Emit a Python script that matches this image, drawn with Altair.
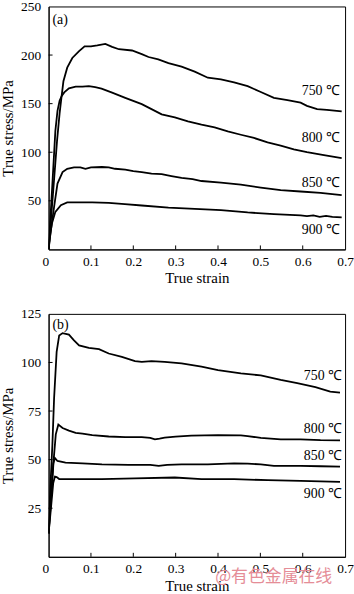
import altair as alt
import pandas as pd

# ---------------- data: panel (a) ----------------
a750_strain = [0, 0.010, 0.020, 0.026, 0.030, 0.035, 0.044, 0.056, 0.072, 0.085, 0.100, 0.115, 0.134, 0.150,
               0.166, 0.197, 0.220, 0.236, 0.259, 0.283, 0.314, 0.345, 0.376, 0.407, 0.438, 0.470, 0.501,
               0.532, 0.564, 0.595, 0.610, 0.634, 0.657, 0.692]
a750_stress = [0, 55, 112, 140, 155, 173, 187, 197, 204, 209, 209, 210, 211.5, 208.5,
               206, 204.7, 201, 198, 195.5, 191.7, 188, 183, 176.7, 175, 172, 168, 162,
               156, 153.5, 151, 147.7, 144.3, 143.7, 142]

a800_strain = [0, 0.008, 0.016, 0.021, 0.026, 0.031, 0.037, 0.048, 0.064, 0.080, 0.095, 0.110, 0.125, 0.150,
               0.181, 0.220, 0.243, 0.267, 0.298, 0.329, 0.361, 0.392, 0.423, 0.454, 0.485, 0.517, 0.548,
               0.579, 0.610, 0.650, 0.692]
a800_stress = [0, 60, 122, 142.6, 153, 158, 161.6, 165.8, 167.5, 167.5, 168, 167, 165.5, 161.4,
               156, 149.5, 144.4, 139, 135.8, 131.7, 128.3, 125.6, 121.5, 118, 114.7, 110.2, 106.8,
               103, 100, 97, 94]

a850_strain = [0, 0.006, 0.013, 0.021, 0.033, 0.044, 0.060, 0.075, 0.087, 0.100, 0.126, 0.142, 0.157, 0.181,
               0.200, 0.220, 0.243, 0.267, 0.290, 0.314, 0.340, 0.361, 0.407, 0.454, 0.501, 0.548, 0.595,
               0.642, 0.692]
a850_stress = [0, 22, 43.8, 67.7, 79.6, 83, 84.5, 84.5, 83, 84.5, 84.8, 84.5, 83, 82,
               80.6, 79.6, 77.9, 77.5, 75.5, 73.5, 72.3, 70.4, 68.7, 66.7, 63.6, 60.9, 59.6,
               58.2, 55.8]

a900_strain = [0, 0.003, 0.008, 0.016, 0.029, 0.044, 0.070, 0.103, 0.142, 0.180, 0.220, 0.283, 0.345,
               0.407, 0.470, 0.532, 0.595, 0.610, 0.625, 0.640, 0.655, 0.670, 0.692]
a900_stress = [0, 13, 26.8, 38.7, 45.5, 48.3, 48.5, 48.3, 47.9, 46.5, 45.2, 43.1, 41.8,
               40.4, 38, 36.3, 35, 34.2, 35, 33.6, 34.6, 33.4, 33]

# ---------------- data: panel (b) ----------------
b750_strain = [0, 0.004, 0.009, 0.013, 0.019, 0.025, 0.033, 0.048, 0.060, 0.072, 0.095, 0.119, 0.142, 0.173,
               0.204, 0.220, 0.243, 0.274, 0.314, 0.361, 0.400, 0.454, 0.501, 0.548, 0.587, 0.630, 0.665, 0.688]
b750_stress = [12, 35, 57.8, 81.6, 105.4, 113.9, 115.1, 114.3, 111.4, 108.8, 107.5, 106.8, 104.6, 102.9,
               100.7, 100.3, 100.7, 100.3, 99.5, 97.8, 96.1, 94.4, 93.3, 91, 89.3, 87.3, 85, 84.5]

b800_strain = [0, 0.006, 0.012, 0.017, 0.023, 0.033, 0.048, 0.064, 0.080, 0.103, 0.142, 0.181, 0.220, 0.240,
               0.251, 0.262, 0.274, 0.300, 0.337, 0.400, 0.454, 0.470, 0.501, 0.548, 0.595, 0.642, 0.688]
b800_stress = [12, 30, 50, 63, 68, 66.3, 64.9, 63.8, 63.4, 62.6, 61.9, 61.6, 61.6, 61.2,
               60.4, 60.8, 61.3, 61.8, 62.4, 62.6, 62.5, 62.1, 61.2, 60.4, 60.4, 60, 59.9]

b850_strain = [0, 0.005, 0.011, 0.015, 0.021, 0.040, 0.080, 0.126, 0.189, 0.240, 0.260, 0.280, 0.314, 0.376,
               0.438, 0.470, 0.501, 0.532, 0.595, 0.642, 0.688]
b850_stress = [12, 30, 48, 50.8, 49.3, 48.5, 48.1, 47.6, 47.3, 47.3, 46.8, 47.3, 47.6, 47.6,
               48.1, 47.9, 47.6, 46.8, 46.8, 46.6, 46.4]

b900_strain = [0, 0.006, 0.011, 0.015, 0.019, 0.025, 0.048, 0.126, 0.204, 0.298, 0.361, 0.438, 0.517,
               0.595, 0.642, 0.688]
b900_stress = [12, 26, 38, 41.3, 41, 40, 40, 40, 40.3, 40.8, 40, 40, 39.4, 39.1, 38.8, 38.6]

temps = ["750 ℃", "800 ℃", "850 ℃", "900 ℃"]
a_label_stress = [163, 115, 68.7, 20]
b_label_stress = [93.2, 65.5, 51.9, 32.3]
a_label_strain = 0.688
b_label_strain = 0.693

x_ticks = [0, 0.1, 0.2, 0.3, 0.4, 0.5, 0.6, 0.7]
a_y_ticks = [50, 100, 150, 200, 250]
b_y_ticks = [25, 50, 75, 100, 125]

FONT = "Liberation Serif"
W, H = 299, 245


def long_df(series):
    rows = []
    for t, (xs, ys) in zip(temps, series):
        for x, y in zip(xs, ys):
            rows.append({"temp": t, "strain": x, "stress": y})
    return pd.DataFrame(rows)


def panel(series, label_stress, label_strain, ydom, yticks, tag, tag_stress, extra=None):
    xscale = alt.Scale(domain=[0, 0.7], nice=False, zero=False)
    yscale = alt.Scale(domain=ydom, nice=False, zero=False)
    df = long_df(series)
    lines = alt.Chart(df).mark_line(color="black", strokeWidth=1.8, clip=True).encode(
        x=alt.X("strain:Q", scale=xscale,
                axis=alt.Axis(values=x_ticks, format="~g", title="True strain",
                              labelAlign={"condition": {"test": "datum.value == 0", "value": "right"},
                                          "value": "center"})),
        y=alt.Y("stress:Q", scale=yscale,
                axis=alt.Axis(values=yticks, title="True stress/MPa")),
        detail="temp:N",
        order="strain:Q",
    )
    lab_df = pd.DataFrame({"temp": temps, "stress": label_stress,
                           "strain": [label_strain] * len(temps)})
    labels = alt.Chart(lab_df).mark_text(align="right", baseline="middle", font=FONT,
                                         fontSize=14, color="black").encode(
        x=alt.X("strain:Q", scale=xscale),
        y=alt.Y("stress:Q", scale=yscale),
        text="temp:N",
    )
    tag_df = pd.DataFrame({"t": [tag], "strain": [0.009], "stress": [tag_stress]})
    tagm = alt.Chart(tag_df).mark_text(align="left", baseline="middle", font=FONT,
                                       fontSize=14, color="black").encode(
        x=alt.X("strain:Q", scale=xscale),
        y=alt.Y("stress:Q", scale=yscale),
        text="t:N",
    )
    xt = pd.DataFrame({"strain": x_ticks[1:-1]})
    xtick = alt.Chart(xt).mark_rule(color="black", strokeWidth=1).encode(
        x=alt.X("strain:Q", scale=xscale),
        y=alt.value(H), y2=alt.value(H - 4),
    )
    yt = pd.DataFrame({"stress": yticks[:-1]})
    ytick = alt.Chart(yt).mark_rule(color="black", strokeWidth=1).encode(
        y=alt.Y("stress:Q", scale=yscale),
        x=alt.value(0), x2=alt.value(4),
    )
    layers = [lines, labels, tagm, xtick, ytick]
    if extra is not None:
        layers.append(extra)
    return alt.layer(*layers).properties(width=W, height=H)


watermark = alt.Chart(pd.DataFrame({"t": ["@有色金属在线"]})).mark_text(
    align="left", baseline="middle", font="Noto Sans CJK SC", fontSize=17, color="#e58d97"
).encode(x=alt.value(168), y=alt.value(H + 20), text="t:N")

pa = panel([(a750_strain, a750_stress), (a800_strain, a800_stress),
            (a850_strain, a850_stress), (a900_strain, a900_stress)],
           a_label_stress, a_label_strain, [0, 250], a_y_ticks, "(a)", 236)
pb = panel([(b750_strain, b750_stress), (b800_strain, b800_stress),
            (b850_strain, b850_stress), (b900_strain, b900_stress)],
           b_label_stress, b_label_strain, [0, 125], b_y_ticks, "(b)", 119.4, extra=watermark)

chart = alt.vconcat(pa, pb, spacing=65).properties(
    bounds="flush",
    padding={"left": 0, "top": -4, "right": 0, "bottom": 0},
).configure_view(stroke="black", strokeWidth=1).configure_axis(
    grid=False, ticks=False, domainColor="black", domainWidth=1,
    labelFont=FONT, titleFont=FONT, labelFontSize=13.5, titleFontSize=15,
    labelColor="black", titleColor="black", titleFontWeight="normal",
).configure_axisX(labelPadding=5, titlePadding=3).configure_axisY(labelPadding=8, titlePadding=5)

chart.save("out.html", embed_options={"renderer": "svg", "actions": False})
